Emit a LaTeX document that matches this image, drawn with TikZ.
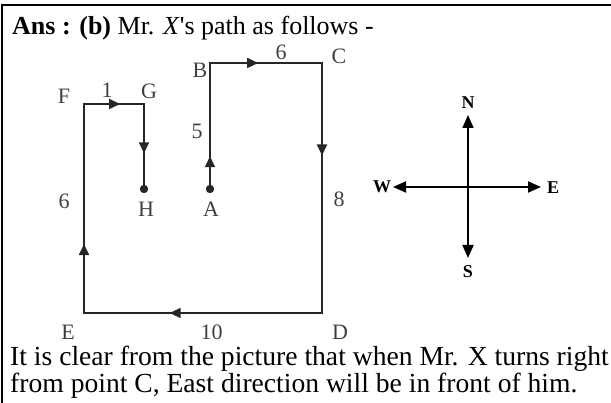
\documentclass[tikz,border=0pt]{standalone}
\usepackage{fontspec}
\setmainfont{Liberation Serif}
\usetikzlibrary{arrows.meta,decorations.markings}
\begin{document}
\begin{tikzpicture}[x=1pt,y=-1pt,
  pathline/.style={line width=1.8pt, line join=miter, black!85},
  midarrow/.style={postaction={decorate},decoration={markings,mark=at position #1 with {\arrow{Triangle[length=11pt,width=10pt]}}}},
  lbl/.style={font=\fontsize{22}{22}\selectfont, text=black!75, inner sep=0pt},
  dirlbl/.style={font=\bfseries\fontsize{18}{18}\selectfont, inner sep=0pt},
  compass/.style={line width=1.8pt, {Triangle[length=13pt,width=11pt]}-{Triangle[length=13pt,width=11pt]}},
  frameline/.style={line width=2pt},
  bigtext/.style={inner sep=0pt, anchor=base west}]
\useasboundingbox (0,0) rectangle (611,403);
% frame
\coordinate (fBL) at (2,403);
\coordinate (fTL) at (2,5.5);
\coordinate (fTR) at (611,5.5);
\draw[frameline] (fBL) -- (fTL) -- (fTR);
% heading
\node[bigtext, font=\fontsize{26}{27}\selectfont] (head) at (12,35)
  {\textbf{Ans : (b)} Mr. \textit{X}\textquotesingle s path as follows -};
% path points
\coordinate (A) at (210,189);
\coordinate (B) at (210,63);
\coordinate (C) at (322,63);
\coordinate (D) at (322,313);
\coordinate (E) at (84,313);
\coordinate (F) at (84,104);
\coordinate (G) at (144,104);
\coordinate (H) at (144,189);
\draw[pathline] (A) -- (B) -- (C) -- (D) -- (E) -- (F) -- (G) -- (H);
\draw[pathline, midarrow=0.26] (A) -- (B);
\draw[pathline, midarrow=0.43] (B) -- (C);
\draw[pathline, midarrow=0.37] (C) -- (D);
\draw[pathline, midarrow=0.64] (D) -- (E);
\draw[pathline, midarrow=0.33] (E) -- (F);
\draw[pathline, midarrow=0.60] (F) -- (G);
\draw[pathline, midarrow=0.58] (G) -- (H);
\fill[black!85] (A) circle (4.2pt);
\fill[black!85] (H) circle (4.2pt);
% labels
\node[lbl] (lF) at (64,96) {F};
\node[lbl] (l1) at (107,90) {1};
\node[lbl] (lG) at (149,91) {G};
\node[lbl] (lB) at (200,70) {B};
\node[lbl] (l6t) at (281,52) {6};
\node[lbl] (lC) at (339,56) {C};
\node[lbl] (l5) at (197,131) {5};
\node[lbl] (l6l) at (64,201) {6};
\node[lbl] (lH) at (146,209) {H};
\node[lbl] (lA) at (211,209) {A};
\node[lbl] (l8) at (339,199) {8};
\node[lbl] (lE) at (68,332) {E};
\node[lbl] (l10) at (211.5,332.5) {10};
\node[lbl] (lD) at (340,332) {D};
% compass
\coordinate (cN) at (468,115);
\coordinate (cS) at (468,258);
\coordinate (cW) at (393,187);
\coordinate (cE) at (541,187);
\draw[compass] (cW) -- (cE);
\draw[compass] (cN) -- (cS);
\node[dirlbl] (N) at (468,103) {N};
\node[dirlbl] (S) at (468,272) {S};
\node[dirlbl] (W) at (382,187) {W};
\node[dirlbl] (Ed) at (553,188) {E};
% conclusion
\node[bigtext, font=\fontsize{27.6}{27}\selectfont] (t1) at (10,366)
  {It is clear from the picture that when Mr. X turns right};
\node[bigtext, font=\fontsize{27.6}{27}\selectfont] (t2) at (10,393)
  {from point C, East direction will be in front of him.};
\end{tikzpicture}
\end{document}
